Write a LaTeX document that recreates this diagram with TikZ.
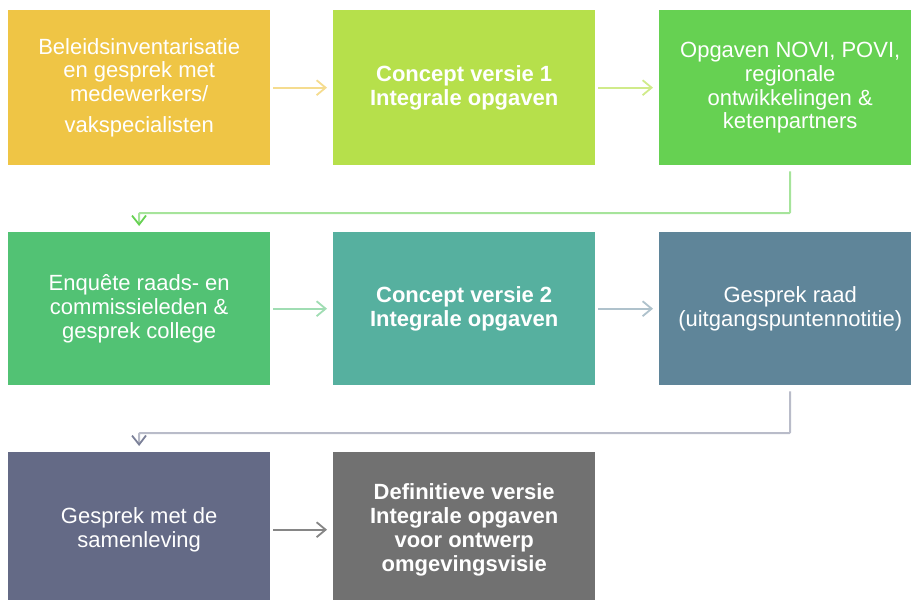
\documentclass[tikz,border=0pt]{standalone}
\usepackage{fontspec}
\setmainfont{Liberation Sans}
\usetikzlibrary{arrows.meta}

\definecolor{geel}{HTML}{EFC545}
\definecolor{limoen}{HTML}{B6E04B}
\definecolor{groen}{HTML}{66D152}
\definecolor{donkergroen}{HTML}{52C274}
\definecolor{teal}{HTML}{56B09F}
\definecolor{leisteen}{HTML}{5F8599}
\definecolor{paars}{HTML}{646A86}
\definecolor{grijs}{HTML}{717171}

\begin{document}
\begin{tikzpicture}[x=1pt,y=-1pt,
    stap/.style={rectangle,anchor=north west,minimum width=262pt,minimum height=155pt,
      inner sep=0pt,text=white,align=center,font=\fontsize{22}{23.8}\selectfont},
    vet/.style={font=\fontsize{22}{23.8}\selectfont\bfseries},
    pijl/.style={line width=2pt,-{Straight Barb[length=9pt,width=15pt,line width=1.8pt]},
      shorten <=3pt,shorten >=6pt},
    bocht/.style={line width=2pt,rounded corners=1pt,
      -{Straight Barb[length=9pt,width=14pt,line width=1.8pt,color=#1]},shorten <=6pt,shorten >=6pt}]
  \useasboundingbox (0,0) rectangle (911,600);
                      % rij 1
                      \node[stap,fill=geel](b1)at(8,10){Beleidsinventarisatie\\en gesprek met\\medewerkers/\\[7pt]vakspecialisten};
                      \node[stap,vet,fill=limoen](b2)at(333,10){Concept versie 1\\Integrale opgaven};
                      \node[stap,fill=groen](b3)at(659,10){Opgaven NOVI, POVI,\\regionale\\ontwikkelingen \&\\ketenpartners};
                      % rij 2
                      \node[stap,fill=donkergroen,minimum height=153pt](b4)at(8,232){Enqu\^ete raads- en\\commissieleden \&\\gesprek college};
                      \node[stap,vet,fill=teal,minimum height=153pt](b5)at(333,232){Concept versie 2\\Integrale opgaven};
                      \node[stap,fill=leisteen,minimum height=153pt](b6)at(659,232){Gesprek raad\\(uitgangspuntennotitie)};
                      % rij 3
                      \node[stap,fill=paars](b7)at(8,452){Gesprek met de\\samenleving};
                      \node[stap,vet,fill=grijs](b8)at(333,452){Definitieve versie\\Integrale opgaven\\voor ontwerp\\omgevingsvisie};
                      \draw[pijl,color=geel!60](b1)--(b2);
                      \draw[pijl,color=limoen!65](b2)--(b3);
                      \draw[pijl,color=donkergroen!55](b4)--(b5);
                      \draw[pijl,color=leisteen!50](b5)--(b6);
                      \draw[pijl,color=grijs!85](b7)--(b8);
                      \draw[bocht=groen,color=groen!58](b3.south)|-(139,213)--(b4.north);
                      \draw[bocht=paars!85,color=paars!45](b6.south)|-(139,433)--(b7.north);
                  \end{tikzpicture}
\end{document}
